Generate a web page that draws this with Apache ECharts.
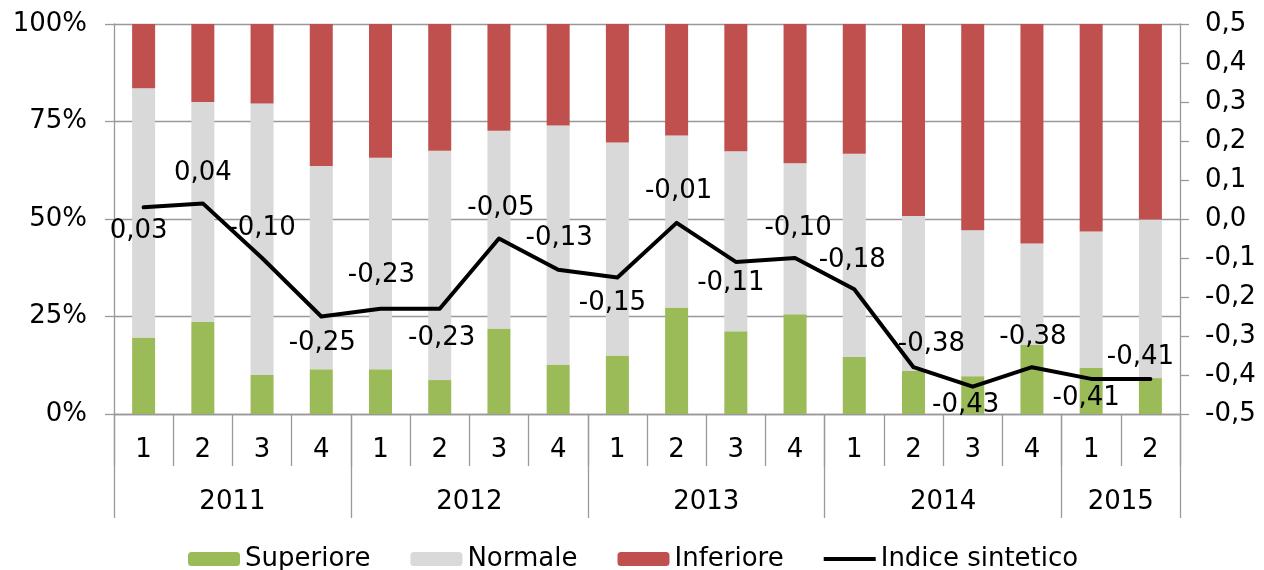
<!DOCTYPE html>
<html>
<head>
<meta charset="utf-8">
<script src="https://cdn.jsdelivr.net/npm/echarts@6/dist/echarts.min.js"></script>
<style>
  html, body { margin: 0; padding: 0; background: #fff; }
  #chart { width: 1264px; height: 570px; }
</style>
</head>
<body>
<div id="chart"></div>
<script>
// Quarters 2011 Q1 – 2015 Q2
const quarters = ['1','2','3','4','1','2','3','4','1','2','3','4','1','2','3','4','1','2'];
const years = ['2011', '2012', '2013', '2014', '2015'];
const yearBounds = [0, 4, 8, 12, 16, 18];   // category boundaries between years
const yearCenters = [2, 6, 10, 14, 17];

// Share of answers (%)
const superiore = [19.6, 23.6, 10.0, 11.5, 11.5, 8.7, 21.9, 12.7, 15.0, 27.3, 21.2, 25.6, 14.6, 11.0, 9.7, 17.7, 11.8, 9.2];
const normale   = [63.9, 56.4, 69.6, 52.1, 54.2, 58.8, 50.7, 61.3, 54.6, 44.1, 46.2, 38.7, 52.1, 39.8, 37.4, 26.0, 35.0, 40.7];
const inferiore = [16.5, 20.0, 20.4, 36.4, 34.3, 32.5, 27.4, 26.0, 30.4, 28.6, 32.6, 35.7, 33.3, 49.2, 52.9, 56.3, 53.2, 50.1];

// Synthetic index (right axis)
const indice = [0.03, 0.04, -0.10, -0.25, -0.23, -0.23, -0.05, -0.13, -0.15, -0.01, -0.11, -0.10, -0.18, -0.38, -0.43, -0.38, -0.41, -0.41];

// Where each index label sits relative to its point [dx, dy]
const labelShift = [[-5, 24], [0, -30], [0, -30], [1, 27], [1, -33], [2, 30], [2, -30], [1, -31], [-5, 26],
                    [2, -32], [-5, 21], [3, -30], [-2, -29], [18, -23], [-7, 19], [1, -30], [-5, 19], [-10, -22]];

const FONT = 'DejaVu Sans';
const AXIS_GREY = '#999999';
const comma = (v, d) => (Math.abs(v) < 1e-9 ? 0 : v).toFixed(d).replace('.', ',');

const chart = echarts.init(document.getElementById('chart'), null, { renderer: 'canvas' });

chart.setOption({
  animation: false,
  textStyle: { fontFamily: FONT },
  grid: { left: 114, right: 84, top: 24, bottom: 156 },
  legend: {
    left: 183,
    top: 541,
    itemWidth: 52,
    itemHeight: 14,
    itemGap: 40,
    textStyle: { fontFamily: FONT, fontSize: 26, color: '#000' },
    data: [
      'Superiore',
      'Normale',
      'Inferiore',
      { name: 'Indice sintetico', icon: 'path://M0,0 L100,0 L100,8 L0,8 Z' }
    ]
  },
  xAxis: [
    {
      type: 'category',
      data: quarters,
      boundaryGap: true,
      axisLine: { onZero: false, lineStyle: { color: AXIS_GREY, width: 1.3 } },
      axisTick: { show: true, interval: 0, length: 52, lineStyle: { color: AXIS_GREY, width: 1.3 } },
      axisLabel: { interval: 0, margin: 23, fontSize: 26, color: '#000', fontFamily: FONT },
      splitLine: { show: false }
    },
    {
      type: 'value',
      position: 'bottom',
      min: 0,
      max: quarters.length,
      axisLine: { show: false, onZero: false },
      splitLine: { show: false },
      axisTick: { show: true, customValues: yearBounds, length: 104, lineStyle: { color: AXIS_GREY, width: 1.3 } },
      axisLabel: {
        customValues: yearCenters,
        margin: 75,
        fontSize: 26,
        color: '#000',
        fontFamily: FONT,
        formatter: v => years[yearCenters.indexOf(v)] || ''
      }
    }
  ],
  yAxis: [
    {
      type: 'value',
      min: 0,
      max: 100,
      interval: 25,
      axisLine: { show: true, lineStyle: { color: AXIS_GREY, width: 1.3 } },
      axisTick: { show: true, length: 9, lineStyle: { color: AXIS_GREY, width: 1.3 } },
      splitLine: { show: true, lineStyle: { color: AXIS_GREY, width: 1.3 } },
      axisLabel: { margin: 27, fontSize: 26, color: '#000', fontFamily: FONT, formatter: '{value}%' }
    },
    {
      type: 'value',
      min: -0.5,
      max: 0.5,
      interval: 0.1,
      position: 'right',
      axisLine: { show: true, lineStyle: { color: AXIS_GREY, width: 1.3 } },
      axisTick: { show: true, length: 9, lineStyle: { color: AXIS_GREY, width: 1.3 } },
      splitLine: { show: false },
      axisLabel: { margin: 25, fontSize: 26, color: '#000', fontFamily: FONT, formatter: v => comma(v, 1) }
    }
  ],
  series: [
    { name: 'Superiore', type: 'bar', stack: 'quota', barWidth: 23, data: superiore, itemStyle: { color: '#9BBB59' } },
    { name: 'Normale',   type: 'bar', stack: 'quota', barWidth: 23, data: normale,   itemStyle: { color: '#D9D9D9' } },
    { name: 'Inferiore', type: 'bar', stack: 'quota', barWidth: 23, data: inferiore, itemStyle: { color: '#C0504D' } },
    {
      name: 'Indice sintetico',
      type: 'line',
      yAxisIndex: 1,
      data: indice,
      symbol: 'circle',
      symbolSize: 1,
      showSymbol: true,
      z: 5,
      itemStyle: { color: '#000' },
      lineStyle: { color: '#000', width: 4, cap: 'round', join: 'round' },
      label: {
        show: true,
        position: 'inside',
        fontSize: 26,
        color: '#000',
        fontFamily: FONT,
        formatter: p => comma(p.value, 2)
      },
      labelLayout: p => ({ dx: labelShift[p.dataIndex][0], dy: labelShift[p.dataIndex][1] })
    }
  ]
});
</script>
</body>
</html>
